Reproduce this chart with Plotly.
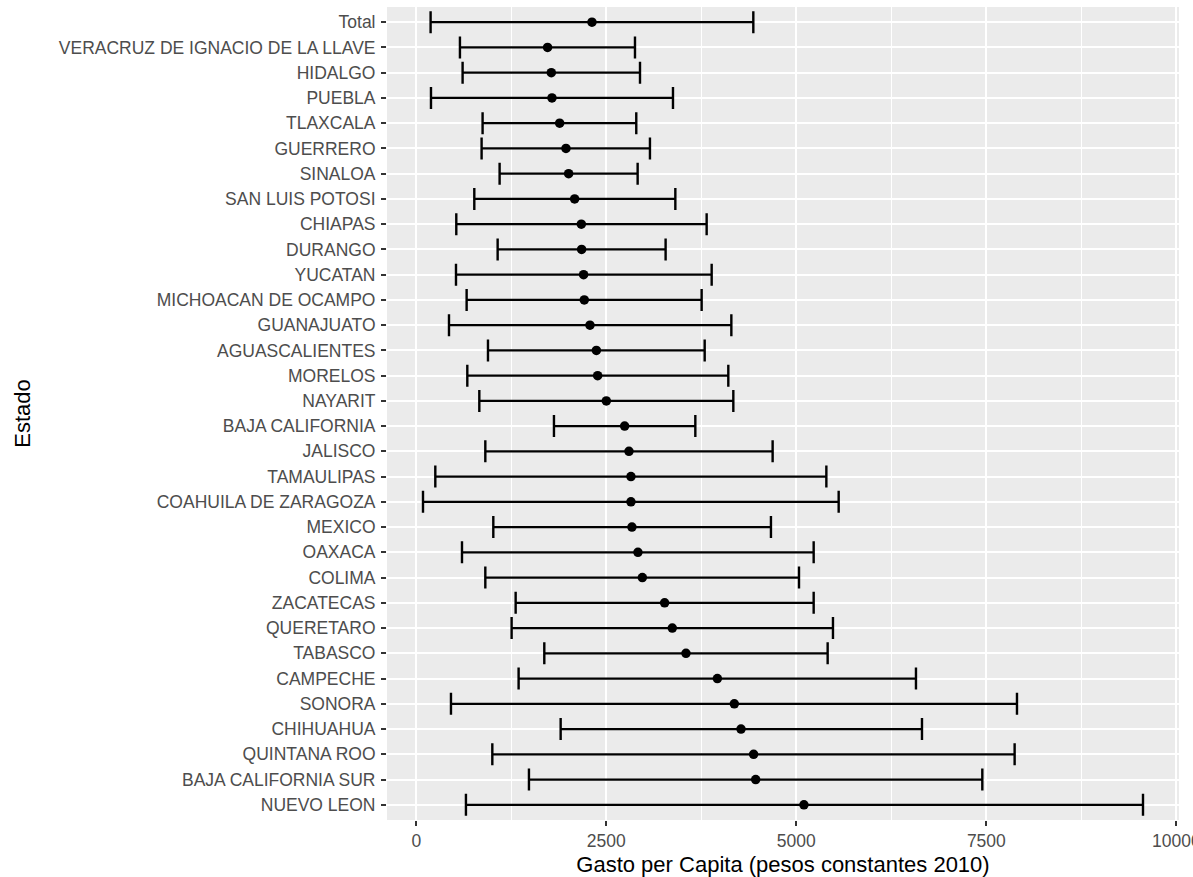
import plotly.graph_objects as go

# Estados, de arriba hacia abajo
estados = [
    "Total", "VERACRUZ DE IGNACIO DE LA LLAVE", "HIDALGO", "PUEBLA", "TLAXCALA",
    "GUERRERO", "SINALOA", "SAN LUIS POTOSI", "CHIAPAS", "DURANGO", "YUCATAN",
    "MICHOACAN DE OCAMPO", "GUANAJUATO", "AGUASCALIENTES", "MORELOS", "NAYARIT",
    "BAJA CALIFORNIA", "JALISCO", "TAMAULIPAS", "COAHUILA DE ZARAGOZA", "MEXICO",
    "OAXACA", "COLIMA", "ZACATECAS", "QUERETARO", "TABASCO", "CAMPECHE", "SONORA",
    "CHIHUAHUA", "QUINTANA ROO", "BAJA CALIFORNIA SUR", "NUEVO LEON",
]

# Gasto per capita: media e intervalo
media = [
    2311, 1727, 1776, 1785, 1886, 1969, 2004, 2083, 2171, 2175, 2201,
    2210, 2285, 2369, 2386, 2500, 2741, 2798, 2824, 2824, 2837,
    2916, 2974, 3267, 3368, 3548, 3961, 4184, 4272, 4438, 4465, 5100,
]
inferior = [
    188, 574, 609, 193, 872, 859, 1096, 763, 526, 1070, 522,
    662, 430, 943, 671, 829, 1811, 908, 250, 88, 1013,
    601, 908, 1307, 1254, 1684, 1346, 456, 1899, 1000, 1482, 653,
]
superior = [
    4434, 2877, 2943, 3377, 2894, 3074, 2912, 3408, 3820, 3280, 3886,
    3754, 4145, 3794, 4105, 4171, 3671, 4688, 5395, 5557, 4666,
    5228, 5035, 5228, 5482, 5412, 6574, 7903, 6653, 7872, 7447, 9561,
]

x_ticks = [0, 2500, 5000, 7500, 10000]
x_tick_text = ["0", "2500", "5000", "7500", "10000"]

err_plus = [s - m for s, m in zip(superior, media)]
err_minus = [m - i for m, i in zip(media, inferior)]

fig = go.Figure(
    go.Scatter(
        x=media,
        y=estados,
        mode="markers",
        marker=dict(color="black", size=9.5),
        error_x=dict(
            type="data",
            symmetric=False,
            array=err_plus,
            arrayminus=err_minus,
            color="black",
            thickness=2.4,
            width=11,
        ),
        showlegend=False,
    )
)

lo = min(inferior)
hi = max(superior)
pad = (hi - lo) * 0.05

fig.update_layout(
    width=1193,
    height=877,
    template="none",
    paper_bgcolor="white",
    plot_bgcolor="#EBEBEB",
    margin=dict(l=387, r=14, t=7, b=57),
    font=dict(family="Liberation Sans, Arial, sans-serif", color="#4D4D4D", size=17.5),
    xaxis=dict(
        range=[lo - pad, hi + pad],
        tickmode="array",
        tickvals=x_ticks,
        ticktext=x_tick_text,
        showgrid=True,
        gridcolor="white",
        gridwidth=2,
        minor=dict(showgrid=True, gridcolor="white", gridwidth=1, dtick=1250, tick0=0),
        zeroline=False,
        showline=False,
        ticks="outside",
        ticklen=5,
        tickwidth=2,
        tickcolor="#333333",
        tickfont=dict(size=17.5, color="#4D4D4D"),
        ticklabeloverflow="allow",
        automargin=False,
        title=dict(
            text="Gasto per Capita (pesos constantes 2010)",
            font=dict(size=22, color="black"),
            standoff=6,
        ),
    ),
    yaxis=dict(
        type="category",
        categoryorder="array",
        categoryarray=list(reversed(estados)),
        range=[-0.6, len(estados) - 1 + 0.6],
        showgrid=True,
        gridcolor="white",
        gridwidth=2,
        zeroline=False,
        showline=False,
        ticks="outside",
        ticklen=5,
        tickwidth=2,
        tickcolor="#333333",
        tickfont=dict(size=17.5, color="#4D4D4D"),
        ticklabelstandoff=2,
        automargin=False,
        title=dict(
            text="Estado",
            font=dict(size=22, color="black"),
            standoff=22,
        ),
    ),
)

fig.write_html("out.html")
